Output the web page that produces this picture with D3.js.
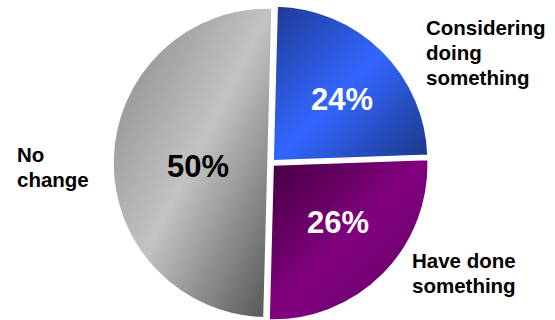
<!DOCTYPE html>
<html>
<head>
<meta charset="utf-8">
<script src="https://cdn.jsdelivr.net/npm/d3@7"></script>
<style>
  html, body { margin: 0; padding: 0; background: #fff; }
  svg { display: block; }
  text { font-family: "Liberation Sans", Arial, sans-serif; font-weight: bold; }
</style>
</head>
<body>
<svg id="chart" width="555" height="320"></svg>
<script>
// Share of respondents by action taken
const categories = ["Considering doing something", "Have done something", "No change"];
const values = [24, 26, 50];
const valueLabels = ["24%", "26%", "50%"];
const labelLines = [["Considering", "doing", "something"], ["Have done", "something"], ["No", "change"]];
const colorStops = [
  ["#1d3a92", "#3366ff", "#1b3784"],
  ["#44003e", "#820080", "#5c005c"],
  ["#858585", "#c3c3c3", "#525252"]
];
const valueColors = ["#ffffff", "#ffffff", "#000000"];

const width = 555, height = 320;
const cx = 271, cy = 163, radius = 155, explode = 3;
const rotation = 1.5 * Math.PI / 180;

const svg = d3.select("#chart");
const defs = svg.append("defs");

colorStops.forEach((stops, i) => {
  const g = defs.append("linearGradient")
    .attr("id", "grad" + i)
    .attr("x1", 0).attr("y1", 0).attr("x2", 1).attr("y2", 1);
  stops.forEach((c, j) => g.append("stop")
    .attr("offset", j / (stops.length - 1))
    .attr("stop-color", c));
});

const pie = d3.pie().sort(null).value(d => d)
  .startAngle(rotation).endAngle(2 * Math.PI + rotation);
const arcs = pie(values);
const arc = d3.arc().innerRadius(0).outerRadius(radius);

const root = svg.append("g").attr("transform", `translate(${cx},${cy})`);

const slices = root.selectAll("g.slice").data(arcs).join("g")
  .attr("class", "slice")
  .attr("transform", d => {
    const a = (d.startAngle + d.endAngle) / 2;
    return `translate(${explode * Math.sin(a)},${-explode * Math.cos(a)})`;
  });

slices.append("path")
  .attr("d", arc)
  .attr("fill", (d, i) => `url(#grad${i})`)
  .attr("stroke", "#fff")
  .attr("stroke-width", 1.5);

// Value labels inside each slice
const valuePos = [[342, 110], [338, 233], [198, 177]];
svg.selectAll("text.value").data(arcs).join("text")
  .attr("class", "value")
  .attr("x", (d, i) => valuePos[i][0])
  .attr("y", (d, i) => valuePos[i][1])
  .attr("text-anchor", "middle")
  .attr("font-size", 31)
  .attr("fill", (d, i) => valueColors[i])
  .text((d, i) => valueLabels[i]);

// Category labels outside the pie
const catPos = [[426, 35], [412, 268], [17, 162]];
labelLines.forEach((lines, i) => {
  const t = svg.append("text")
    .attr("class", "cat")
    .attr("x", catPos[i][0])
    .attr("y", catPos[i][1])
    .attr("font-size", 20.5)
    .attr("fill", "#000");
  lines.forEach((ln, j) => t.append("tspan")
    .attr("x", catPos[i][0])
    .attr("dy", j === 0 ? 0 : 25)
    .text(ln));
});
</script>
</body>
</html>
